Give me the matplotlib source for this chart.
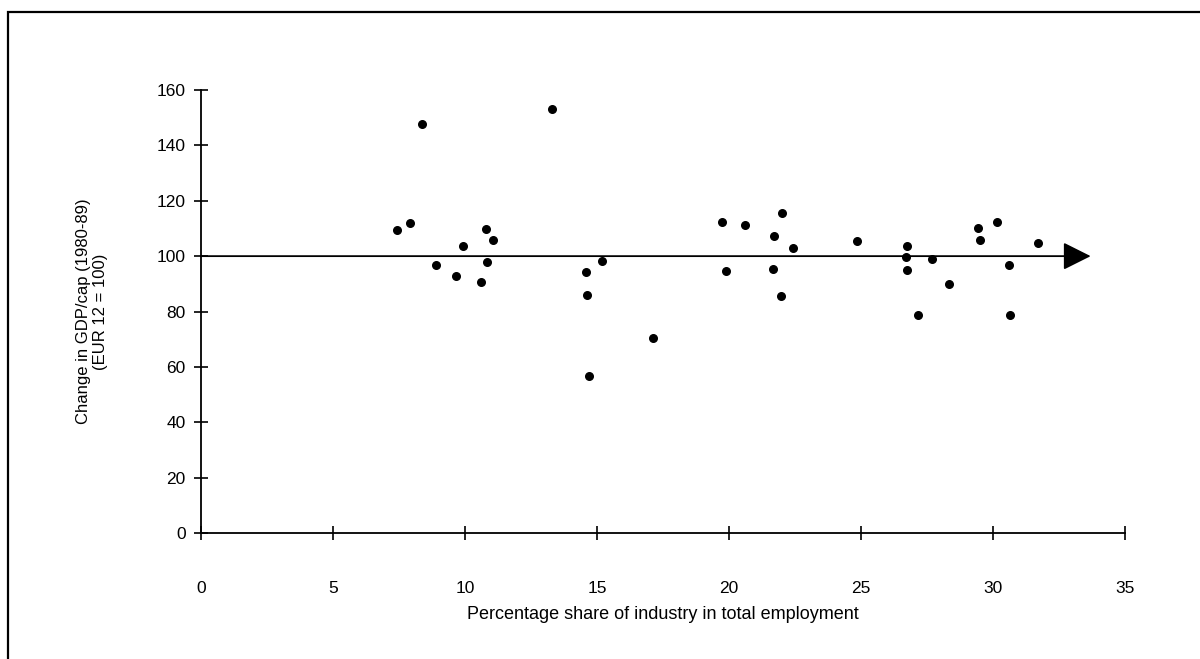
import matplotlib.pyplot as plt
from matplotlib.patches import Rectangle

plt.rcParams["font.family"] = ["Liberation Sans", "DejaVu Sans"]

# industry share of employment (%) vs GDP/cap change, one dot per region
industry_share = [
    7.42, 7.90, 8.39, 8.92, 9.91, 9.67, 10.81, 11.06, 10.85, 10.59,
    13.30, 14.59, 14.64, 15.18, 14.70, 17.12,
    19.74, 19.88, 20.60, 22.02, 21.70, 21.65, 21.96, 22.41, 24.83,
    26.76, 26.71, 26.76, 27.68, 27.16, 28.33,
    29.45, 29.50, 30.17, 30.61, 30.66, 31.72,
]
gdp_change = [
    109.6, 111.9, 147.8, 96.9, 103.5, 93.0, 109.7, 105.9, 97.9, 90.5,
    153.1, 94.1, 85.8, 98.4, 56.8, 70.4,
    112.2, 94.7, 111.2, 115.5, 107.3, 95.2, 85.5, 102.9, 105.4,
    103.7, 99.7, 94.9, 98.8, 78.8, 90.1,
    110.0, 105.7, 112.5, 96.9, 78.8, 104.6,
]

x_ticks = [0, 5, 10, 15, 20, 25, 30, 35]
y_ticks = [0, 20, 40, 60, 80, 100, 120, 140, 160]
eur12 = 100

fig = plt.figure(figsize=(12, 6.59), dpi=100)
ax = fig.add_axes([0.1675, 0.1912, 0.77, 0.6722])

# page frame around the chart
fig.patches.append(Rectangle((8 / 1200, -0.1), 1.2, 1 - 12 / 659 + 0.1,
                             transform=fig.transFigure, fill=False,
                             edgecolor="black", lw=1.6))

ax.scatter(industry_share, gdp_change, s=30, color="black", zorder=3)

# reference line at EUR 12 average
ax.annotate("", xy=(33.7, eur12), xytext=(0, eur12),
            arrowprops=dict(arrowstyle="-|>,head_length=0.4,head_width=0.2",
                            mutation_scale=43, lw=1.3, color="black",
                            shrinkA=0, shrinkB=0))

ax.set_xlim(0, 35)
ax.set_ylim(0, 160)
ax.set_xticks(x_ticks)
ax.set_yticks(y_ticks)
for s in ["top", "right"]:
    ax.spines[s].set_visible(False)
for s in ["left", "bottom"]:
    ax.spines[s].set_linewidth(1.3)

ax.tick_params(axis="both", direction="inout", length=10, width=1.2,
               labelsize=12.5)
ax.tick_params(axis="x", pad=29.5)
ax.tick_params(axis="y", pad=6)

ax.set_xlabel("Percentage share of industry in total employment",
              fontsize=13, labelpad=7)
ax.set_ylabel("Change in GDP/cap (1980-89)\n(EUR 12 = 100)",
              fontsize=12, labelpad=35, linespacing=1.2)

fig.savefig("out.png", dpi=100)
